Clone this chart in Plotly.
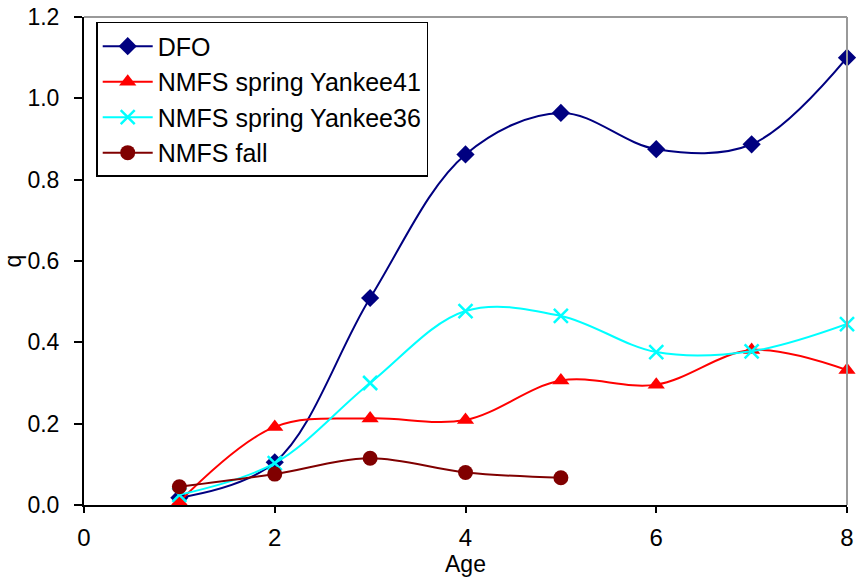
import plotly.graph_objects as go

# Catchability (q) by age for each survey
ages = [1, 2, 3, 4, 5, 6, 7, 8]
ages_fall = [1, 2, 3, 4, 5]

dfo = [0.018, 0.105, 0.509, 0.862, 0.964, 0.875, 0.887, 1.10]
yankee41 = [0.008, 0.192, 0.213, 0.209, 0.306, 0.296, 0.381, 0.332]
yankee36 = [0.025, 0.103, 0.300, 0.477, 0.465, 0.376, 0.378, 0.445]
fall = [0.045, 0.076, 0.115, 0.080, 0.067]

x_ticks = [0, 2, 4, 6, 8]
y_ticks = [0.0, 0.2, 0.4, 0.6, 0.8, 1.0, 1.2]

FONT = "Liberation Sans, Arial, sans-serif"

fig = go.Figure()


def add_series(x, y, name, color, symbol, size, marker_line=None):
    marker = dict(symbol=symbol, size=size, color=color)
    if marker_line:
        marker["line"] = marker_line
    fig.add_trace(go.Scatter(
        x=x, y=y, name=name, mode="lines+markers",
        line=dict(color=color, width=2, shape="spline", smoothing=1.0),
        marker=marker, cliponaxis=False,
    ))


add_series(ages, dfo, "DFO", "#000080", "diamond", 14)
add_series(ages, yankee41, "NMFS spring Yankee41", "#FF0000", "triangle-up", 15)
add_series(ages, yankee36, "NMFS spring Yankee36", "#00FFFF", "x-thin", 14,
           dict(color="#00FFFF", width=2.5))
add_series(ages_fall, fall, "NMFS fall", "#800000", "circle", 15)

# Plot-area frame: grey on the top and right edges
fig.add_shape(type="line", xref="paper", yref="paper", x0=0, x1=1, y0=1, y1=1,
              line=dict(color="#999999", width=2))
fig.add_shape(type="line", xref="paper", yref="paper", x0=1, x1=1, y0=0, y1=1,
              line=dict(color="#999999", width=2))

fig.update_layout(
    width=856, height=577,
    margin=dict(l=84, r=9, t=17, b=72),
    paper_bgcolor="white", plot_bgcolor="white",
    font=dict(family=FONT, size=22, color="black"),
    showlegend=True,
    legend=dict(
        x=0.016, y=0.99, xanchor="left", yanchor="top",
        bgcolor="white", bordercolor="black", borderwidth=1.5,
        font=dict(family=FONT, size=25, color="black"),
        itemwidth=50, tracegroupgap=0,
    ),
    xaxis=dict(
        range=[0, 8], tickvals=x_ticks, ticktext=[str(v) for v in x_ticks],
        showgrid=False, zeroline=False, automargin=False,
        showline=True, linecolor="black", linewidth=2,
        ticks="outside", ticklen=6, tickwidth=2, tickcolor="black",
        ticklabelstandoff=4,
        title=dict(text="Age", font=dict(size=23), standoff=4),
        tickfont=dict(size=24),
    ),
    yaxis=dict(
        range=[0, 1.2], tickvals=y_ticks, tickformat=".1f",
        showgrid=False, zeroline=False, automargin=False,
        showline=True, linecolor="black", linewidth=2,
        ticks="outside", ticklen=8, tickwidth=2, tickcolor="black",
        ticklabelstandoff=10,
        title=dict(text="q", font=dict(size=23), standoff=6),
        tickfont=dict(size=23),
    ),
)

fig.write_html("out.html")
